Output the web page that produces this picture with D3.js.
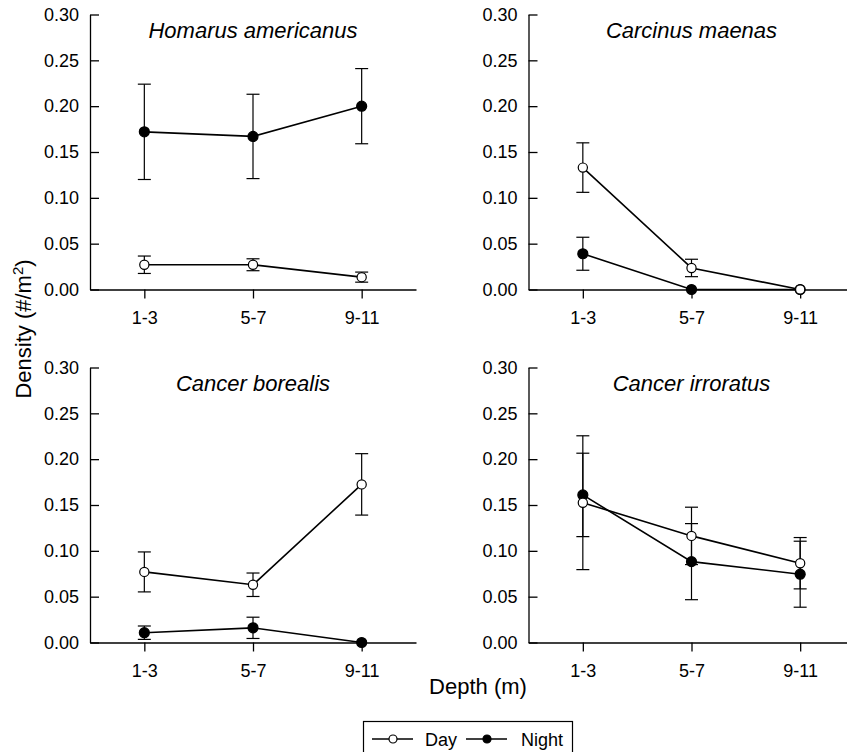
<!DOCTYPE html>
<html>
<head>
<meta charset="utf-8">
<script src="https://cdn.jsdelivr.net/npm/d3@7"></script>
<style>
  body { margin: 0; background: #fff; }
  svg { display: block; font-family: "Liberation Sans", Arial, sans-serif; }
</style>
</head>
<body>
<svg id="chart" width="847" height="752"></svg>
<script>
// depth classes on the x axis
const depths = ["1-3", "5-7", "9-11"]
// one panel per species
const species = ["Homarus americanus", "Carcinus maenas", "Cancer borealis", "Cancer irroratus"]
// mean densities and error bar half-widths, one row per species
const dayMean  = [[0.027, 0.027, 0.0135], [0.133, 0.0235, 0], [0.077, 0.063, 0.1725], [0.1525, 0.1163, 0.0865]]
const dayErr   = [[0.0095, 0.0065, 0.0055], [0.027, 0.0095, 0], [0.0218, 0.0128, 0.0335], [0.073, 0.0313, 0.028]]
const nightMean = [[0.172, 0.167, 0.200], [0.039, 0, 0], [0.0107, 0.016, 0], [0.161, 0.0882, 0.0745]]
const nightErr  = [[0.052, 0.046, 0.041], [0.018, 0, 0], [0.0073, 0.0116, 0], [0.0455, 0.0415, 0.036]]
const yTicks = [0, 0.05, 0.10, 0.15, 0.20, 0.25, 0.30]

const svg = d3.select("#chart")
const panelW = 326
const panelH = 275
const origins = [[90, 14.5], [528.5, 14.5], [90, 367.5], [528.5, 367.5]]

const x = d3.scalePoint().domain(depths).range([0, panelW]).padding(0.5)
const y = d3.scaleLinear().domain([0, 0.3]).range([panelH, 0])

species.forEach(function(name, p) {
  const g = svg.append("g")
    .attr("transform", "translate(" + origins[p][0] + "," + origins[p][1] + ")")

  // y axis, ticks pointing inward
  const ya = g.append("g")
    .call(d3.axisLeft(y).tickValues(yTicks).tickFormat(d3.format(".2f"))
      .tickSizeInner(-9).tickSizeOuter(0).tickPadding(11))
  // x axis, ticks pointing down
  const xa = g.append("g")
    .attr("transform", "translate(0," + panelH + ")")
    .call(d3.axisBottom(x).tickSizeInner(9).tickSizeOuter(0).tickPadding(13))
  ;[ya, xa].forEach(function(a) {
    a.attr("font-size", 18).attr("font-family", null)
    a.selectAll("path, line").attr("stroke", "#000").attr("stroke-width", 1.3)
    a.selectAll("text").attr("fill", "#000")
  })

  g.append("text")
    .attr("x", x("5-7"))
    .attr("y", 23)
    .attr("text-anchor", "middle")
    .attr("font-size", 22)
    .attr("font-style", "italic")
    .text(name)

  const series = [
    {mean: nightMean[p], err: nightErr[p], fill: "#000", r: 5},
    {mean: dayMean[p], err: dayErr[p], fill: "#fff", r: 4.6}
  ]

  // error bars first
  series.forEach(function(s) {
    const eb = g.append("g").attr("stroke", "#000").attr("stroke-width", 1.2)
    depths.forEach(function(d, i) {
      if (s.err[i] <= 0) return
      const cx = x(d)
      const lo = y(s.mean[i] - s.err[i])
      const hi = y(s.mean[i] + s.err[i])
      eb.append("line").attr("x1", cx).attr("x2", cx).attr("y1", lo).attr("y2", hi)
      eb.append("line").attr("x1", cx - 6.5).attr("x2", cx + 6.5).attr("y1", lo).attr("y2", lo)
      eb.append("line").attr("x1", cx - 6.5).attr("x2", cx + 6.5).attr("y1", hi).attr("y2", hi)
    })
  })

  series.forEach(function(s) {
    g.append("path")
      .attr("d", d3.line().x(function(d, i) { return x(depths[i]) }).y(function(d) { return y(d) })(s.mean))
      .attr("fill", "none")
      .attr("stroke", "#000")
      .attr("stroke-width", 1.6)
  })

  series.forEach(function(s) {
    g.selectAll(null)
      .data(s.mean)
      .join("circle")
      .attr("cx", function(d, i) { return x(depths[i]) })
      .attr("cy", function(d) { return y(d) })
      .attr("r", s.r)
      .attr("fill", s.fill)
      .attr("stroke", "#000")
      .attr("stroke-width", 1.2)
  })
})

// axis titles
svg.append("text")
  .attr("transform", "translate(31,329) rotate(-90)")
  .attr("text-anchor", "middle")
  .attr("font-size", 22)
  .html('Density (#/m<tspan baseline-shift="super" font-size="15">2</tspan>)')

svg.append("text")
  .attr("x", 478)
  .attr("y", 694)
  .attr("text-anchor", "middle")
  .attr("font-size", 22)
  .text("Depth (m)")

// legend
const leg = svg.append("g")
leg.append("rect")
  .attr("x", 363.5).attr("y", 721.5)
  .attr("width", 209).attr("height", 40)
  .attr("fill", "none").attr("stroke", "#000").attr("stroke-width", 1.2)

const legendItems = [
  {label: "Day", fill: "#fff", x0: 372, tx: 425},
  {label: "Night", fill: "#000", x0: 466, tx: 521}
]
legendItems.forEach(function(it) {
  leg.append("line")
    .attr("x1", it.x0).attr("x2", it.x0 + 41)
    .attr("y1", 739).attr("y2", 739)
    .attr("stroke", "#000").attr("stroke-width", 1.6)
  leg.append("circle")
    .attr("cx", it.x0 + 21).attr("cy", 739).attr("r", 4)
    .attr("fill", it.fill).attr("stroke", "#000").attr("stroke-width", 1.2)
  leg.append("text")
    .attr("x", it.tx).attr("y", 745.5)
    .attr("font-size", 18)
    .text(it.label)
})
</script>
</body>
</html>
